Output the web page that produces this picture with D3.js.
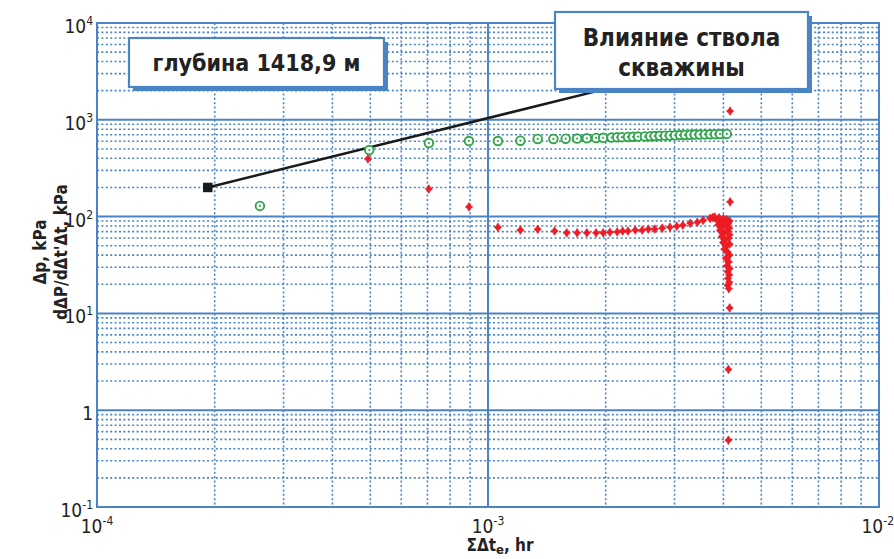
<!DOCTYPE html>
<html>
<head>
<meta charset="utf-8">
<script src="https://cdn.jsdelivr.net/npm/d3@7"></script>
<style>
  body { margin: 0; background: #fff; }
  svg text { font-family: "Liberation Sans Narrow", "DejaVu Sans Condensed", "Roboto", sans-serif; }
</style>
</head>
<body>
<div id="graph"></div>
<script>
(function() {

  // decades shown on the axes
  const timeDecades = [-4, -3, -2]
  const pressureDecades = [-1, 0, 1, 2, 3, 4]

  // Δp, kPa
  const dpTime = [2.61e-4, 4.97e-4, 7.06e-4, 8.94e-4, 1.06e-3, 1.21e-3, 1.34e-3, 1.47e-3, 1.58e-3, 1.69e-3,
    1.79e-3, 1.89e-3, 1.97e-3, 2.07e-3, 2.14e-3, 2.20e-3, 2.28e-3, 2.35e-3, 2.42e-3, 2.52e-3,
    2.60e-3, 2.67e-3, 2.75e-3, 2.84e-3, 2.92e-3, 3.01e-3, 3.10e-3, 3.19e-3, 3.29e-3, 3.38e-3,
    3.48e-3, 3.59e-3, 3.70e-3, 3.81e-3, 3.92e-3, 4.08e-3]
  const dpValue = [129, 487, 575, 604, 604, 608, 634, 634, 638, 640,
    645, 649, 652, 656, 660, 662, 665, 668, 671, 674,
    677, 680, 683, 686, 689, 692, 695, 698, 700, 703,
    705, 707, 709, 711, 713, 715]

  // dΔP/dΔt'Δt, kPa
  const derTime = [4.93e-4, 7.06e-4, 8.94e-4, 1.06e-3, 1.21e-3, 1.34e-3, 1.48e-3, 1.59e-3, 1.69e-3, 1.79e-3,
    1.89e-3, 1.97e-3, 2.05e-3, 2.14e-3, 2.21e-3, 2.28e-3, 2.38e-3, 2.48e-3, 2.57e-3, 2.67e-3,
    2.79e-3, 2.92e-3, 3.04e-3, 3.15e-3, 3.29e-3, 3.43e-3, 3.55e-3, 3.70e-3, 3.76e-3,
    3.80e-3, 3.90e-3, 4.00e-3, 4.08e-3, 4.15e-3,
    3.85e-3, 3.94e-3, 4.03e-3, 4.12e-3,
    3.88e-3, 3.97e-3, 4.06e-3, 4.14e-3,
    3.92e-3, 4.01e-3, 4.10e-3, 4.15e-3,
    3.96e-3, 4.05e-3, 4.13e-3,
    3.99e-3, 4.08e-3, 4.15e-3,
    4.02e-3, 4.10e-3, 4.15e-3,
    4.06e-3, 4.13e-3,
    4.08e-3, 4.15e-3, 4.10e-3, 4.14e-3, 4.11e-3, 4.14e-3, 4.10e-3, 4.13e-3,
    4.16e-3, 4.16e-3, 4.15e-3, 4.12e-3, 4.12e-3]
  const derValue = [394, 193, 126, 77.5, 72.6, 74, 71, 68, 68, 68,
    68, 68, 69, 69.5, 70.9, 70.9, 72.6, 72.6, 74.3, 74.3,
    76, 77.8, 79.6, 81.5, 85.4, 87.4, 91.5, 95.9, 98.1,
    99, 97, 95, 93, 90,
    92, 88, 86, 85,
    82, 78, 80, 76,
    72, 68, 70, 65,
    62, 58, 60,
    54, 50, 52,
    46, 43, 40,
    37, 34,
    31, 29, 27, 25, 23, 21, 19.5, 18,
    142, 1230, 11.4, 2.64, 0.49]

  // unit-slope wellbore storage line
  const storageTime = [1.92e-4, 2.1e-3]
  const storageValue = [200, 2190]

  const depthLabel = "глубина 1418,9 м"
  const calloutLines = ["Влияние ствола", "скважины"]

  const blue = "#4a84c4"
  const margin = {top: 23, right: 15, bottom: 52, left: 97}
  const width = 894 - margin.left - margin.right
  const height = 559 - margin.top - margin.bottom

  const root = d3.select("#graph")
    .append("svg")
      .attr("width", 894)
      .attr("height", 559)
  const svg = root.append("g")
      .attr("transform", "translate(" + margin.left + "," + margin.top + ")")

  const x = d3.scaleLog().domain([1e-4, 1e-2]).range([0, width])
  const y = d3.scaleLog().domain([1e-1, 1e4]).range([height, 0])

  // minor grid (dotted)
  const minorX = [], minorY = []
  timeDecades.slice(0, -1).forEach(d => { for (let k = 2; k <= 9; k++) minorX.push(k * Math.pow(10, d)) })
  pressureDecades.slice(0, -1).forEach(d => { for (let k = 2; k <= 9; k++) minorY.push(k * Math.pow(10, d)) })

  svg.append("g").selectAll("line").data(minorX).join("line")
    .attr("x1", d => x(d)).attr("x2", d => x(d))
    .attr("y1", 0).attr("y2", height)
    .attr("stroke", blue).attr("stroke-width", 1.6).attr("stroke-dasharray", "2,2.4")
  svg.append("g").selectAll("line").data(minorY).join("line")
    .attr("x1", 0).attr("x2", width)
    .attr("y1", d => y(d)).attr("y2", d => y(d))
    .attr("stroke", blue).attr("stroke-width", 1.6).attr("stroke-dasharray", "2,2.4")

  // major grid (solid)
  svg.append("g").selectAll("line").data(timeDecades.slice(1, -1)).join("line")
    .attr("x1", d => x(Math.pow(10, d))).attr("x2", d => x(Math.pow(10, d)))
    .attr("y1", 0).attr("y2", height)
    .attr("stroke", blue).attr("stroke-width", 2)
  svg.append("g").selectAll("line").data(pressureDecades.slice(1, -1)).join("line")
    .attr("x1", 0).attr("x2", width)
    .attr("y1", d => y(Math.pow(10, d))).attr("y2", d => y(Math.pow(10, d)))
    .attr("stroke", blue).attr("stroke-width", 2)

  svg.append("rect")
    .attr("width", width).attr("height", height)
    .attr("fill", "none").attr("stroke", blue).attr("stroke-width", 2)

  // tick labels
  function powerLabel(sel, d) {
    if (d === 0) { sel.text("1"); return }
    sel.append("tspan").text("10")
    sel.append("tspan").attr("dy", -8).attr("font-size", 12).text(d)
  }
  svg.append("g").selectAll("text").data(pressureDecades).join("text")
    .attr("x", -4)
    .attr("y", d => y(Math.pow(10, d)) + 10)
    .attr("text-anchor", "end")
    .attr("font-size", 19)
    .attr("fill", "#222")
    .each(function(d) { powerLabel(d3.select(this), d) })
  svg.append("g").selectAll("text").data(timeDecades).join("text")
    .attr("x", (d, i) => i === timeDecades.length - 1 ? width + margin.right : x(Math.pow(10, d)))
    .attr("y", height + 26)
    .attr("text-anchor", (d, i) => i === timeDecades.length - 1 ? "end" : "middle")
    .attr("font-size", 19)
    .attr("fill", "#222")
    .each(function(d) { powerLabel(d3.select(this), d) })

  // axis titles
  const xt = svg.append("text")
    .attr("x", width / 2 + 12).attr("y", height + 44)
    .attr("text-anchor", "middle").attr("font-size", 17).attr("font-weight", "bold").attr("fill", "#222")
  xt.append("tspan").text("ΣΔt")
  xt.append("tspan").attr("dy", 3).attr("font-size", 13).text("e")
  xt.append("tspan").attr("dy", -3).text(", hr")

  const yt = root.append("text")
    .attr("transform", "translate(0,252) rotate(-90)")
    .attr("text-anchor", "middle").attr("font-size", 17).attr("font-weight", "bold").attr("fill", "#222")
  yt.append("tspan").attr("x", 0).attr("y", 46).text("Δp, kPa")
  yt.append("tspan").attr("x", 0).attr("y", 67).text("dΔP/dΔt'Δt, kPa")

  // storage line and its start point
  svg.append("path")
    .datum(d3.zip(storageTime, storageValue))
    .attr("fill", "none").attr("stroke", "#1a1a1a").attr("stroke-width", 2.5)
    .attr("d", d3.line().x(d => x(d[0])).y(d => y(d[1])))
  svg.append("path")
    .attr("transform", "translate(" + x(storageTime[0]) + "," + y(storageValue[0]) + ")")
    .attr("d", d3.symbol().type(d3.symbolSquare).size(90))
    .attr("fill", "#1a1a1a")

  // Δp points
  const dp = svg.append("g").selectAll("g").data(d3.zip(dpTime, dpValue)).join("g")
    .attr("transform", d => "translate(" + x(d[0]) + "," + y(d[1]) + ")")
  dp.append("circle").attr("r", 4.3).attr("fill", "#fff").attr("stroke", "#30a64a").attr("stroke-width", 1.9)
  dp.append("circle").attr("r", 1.1).attr("fill", "#30a64a")

  // derivative points
  const star4 = {
    draw(ctx, size) {
      const s = Math.sqrt(size) / 2
      ctx.moveTo(0, -1.35 * s)
      ctx.lineTo(0.5 * s, -0.5 * s)
      ctx.lineTo(1.15 * s, 0)
      ctx.lineTo(0.5 * s, 0.5 * s)
      ctx.lineTo(0, 1.35 * s)
      ctx.lineTo(-0.5 * s, 0.5 * s)
      ctx.lineTo(-1.15 * s, 0)
      ctx.lineTo(-0.5 * s, -0.5 * s)
      ctx.closePath()
    }
  }
  svg.append("g").selectAll("path").data(d3.zip(derTime, derValue)).join("path")
    .attr("transform", d => "translate(" + x(d[0]) + "," + y(d[1]) + ")")
    .attr("d", d3.symbol().type(star4).size(40))
    .attr("fill", "#ed1c24").attr("stroke", "#ed1c24").attr("stroke-width", 0.8)

  // annotation boxes
  function box(bx, by, bw, bh) {
    const g = root.append("g")
    g.append("rect").attr("x", bx + 4).attr("y", by + 4).attr("width", bw).attr("height", bh).attr("fill", blue)
    g.append("rect").attr("x", bx).attr("y", by).attr("width", bw).attr("height", bh)
      .attr("fill", "#fff").attr("stroke", blue).attr("stroke-width", 2.2)
    return g
  }
  box(129, 38, 255, 49).append("text")
    .attr("x", 129 + 255 / 2).attr("y", 71)
    .attr("text-anchor", "middle").attr("font-size", 23).attr("font-weight", "bold").attr("fill", "#222")
    .text(depthLabel)
  box(555, 12, 253, 77).append("text")
    .attr("text-anchor", "middle").attr("font-size", 24).attr("font-weight", "bold").attr("fill", "#222")
    .selectAll("tspan").data(calloutLines).join("tspan")
      .attr("x", 555 + 253 / 2)
      .attr("y", (d, i) => 46 + i * 30)
      .text(d => d)

})();
</script>
</body>
</html>
